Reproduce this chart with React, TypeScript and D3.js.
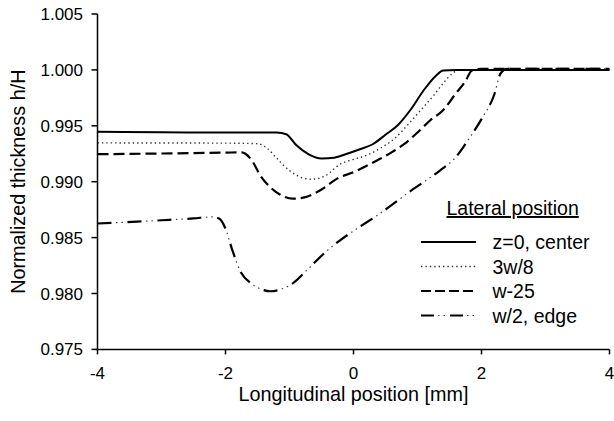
import React from "react";
import * as d3 from "d3";

// ---- data ----
const xTicks = [-4, -2, 0, 2, 4];
const yTicks = [0.975, 0.98, 0.985, 0.99, 0.995, 1.0, 1.005];

const seriesNames = ["z=0, center", "3w/8", "w-25", "w/2, edge"];

const centerData: [number, number][] = [
  [-4, 0.99446], [-3, 0.99442], [-2, 0.9944], [-1.2, 0.9944], [-1.05, 0.99425],
  [-0.9, 0.9933], [-0.7, 0.99245], [-0.5, 0.99208], [-0.3, 0.99215], [-0.1, 0.9925],
  [0.1, 0.9929], [0.3, 0.99335], [0.5, 0.9942], [0.7, 0.9951], [0.9, 0.9965],
  [1.1, 0.9982], [1.3, 0.99955], [1.4, 0.99995], [1.6, 1.0], [4, 1.0],
];

const w38Data: [number, number][] = [
  [-4, 0.99347], [-2, 0.99345], [-1.5, 0.9934], [-1.35, 0.993], [-1.2, 0.9921],
  [-1.0, 0.991], [-0.8, 0.99035], [-0.65, 0.99022], [-0.45, 0.9905], [-0.2, 0.9916],
  [0, 0.992], [0.2, 0.99235], [0.45, 0.9931], [0.65, 0.9939], [0.85, 0.9951],
  [1.05, 0.9964], [1.25, 0.9977], [1.4, 0.9988], [1.55, 0.9997], [1.65, 1.0], [4, 1.0],
];

const w25Data: [number, number][] = [
  [-4, 0.99246], [-3, 0.99252], [-2, 0.9926], [-1.75, 0.99262], [-1.6, 0.992],
  [-1.45, 0.9905], [-1.3, 0.9895], [-1.15, 0.98885], [-0.95, 0.98848], [-0.75, 0.98862],
  [-0.5, 0.9893], [-0.25, 0.9903], [0, 0.99085], [0.2, 0.9914], [0.4, 0.992],
  [0.6, 0.99265], [0.8, 0.9934], [1.0, 0.9944], [1.2, 0.9955], [1.4, 0.9964],
  [1.6, 0.9979], [1.75, 0.999], [1.85, 0.99995], [2.0, 1.0001], [4, 1.0001],
];

const edgeData: [number, number][] = [
  [-4, 0.98626], [-3, 0.98655], [-2.5, 0.98672], [-2.2, 0.98685], [-2.1, 0.9867],
  [-2.0, 0.9858], [-1.9, 0.984], [-1.77, 0.982], [-1.6, 0.9809], [-1.45, 0.9804],
  [-1.3, 0.9802], [-1.1, 0.98045], [-0.95, 0.9809], [-0.7, 0.98225], [-0.4, 0.9839],
  [-0.2, 0.9848], [0, 0.9856], [0.4, 0.9871], [0.9, 0.9892], [1.35, 0.991],
  [1.6, 0.9922], [1.8, 0.9938], [2.0, 0.9956], [2.2, 0.9978], [2.3, 0.9997],
  [2.4, 1.0001], [3, 1.0001], [4, 1.0001],
];

const W = 614;
const H = 421;
const left = 97.5;
const right = 609.5;
const top = 14;
const bottom = 349.4;

const FONT = "'Liberation Sans', Arial, Helvetica, sans-serif";

export default function App() {
  const x = d3.scaleLinear().domain([-4, 4]).range([left, right]);
  const y = d3.scaleLinear().domain([0.975, 1.005]).range([bottom, top]);
  const line = d3
    .line<[number, number]>()
    .x((d) => x(d[0]))
    .y((d) => y(d[1]))
    .curve(d3.curveMonotoneX);

  const legX1 = 421;
  const legX2 = 476;
  const legText = 492.5;
  const legY0 = 242;
  const legDy = 24.5;

  const solid = { stroke: "#000", strokeWidth: 2, fill: "none" };
  const dotted = { stroke: "#333", strokeWidth: 1.4, fill: "none", strokeDasharray: "1.4 3" };
  const dashed = { stroke: "#000", strokeWidth: 2.2, fill: "none", strokeDasharray: "11 5" };
  const ddDash = { stroke: "#000", strokeWidth: 2.2, fill: "none", strokeDasharray: "14 16" };
  const ddDots = { stroke: "#444", strokeWidth: 1.2, fill: "none", strokeDasharray: "0 18.5 1.5 4 1.5 4.5" };

  const legLine = (i: number) => `M${legX1},${legY0 + i * legDy}L${legX2},${legY0 + i * legDy}`;

  return (
    <svg
      width={W}
      height={H}
      style={{ position: "absolute", left: 0, top: 0, background: "#fff" }}
      fontFamily={FONT}
    >
      <rect x={0} y={0} width={W} height={H} fill="#fff" />

      {/* curves */}
      <path d={line(edgeData) || ""} {...ddDash} />
      <path d={line(edgeData) || ""} {...ddDots} />
      <path d={line(w25Data) || ""} {...dashed} />
      <path d={line(w38Data) || ""} {...dotted} />
      <path d={line(centerData) || ""} {...solid} />

      {/* axes */}
      <line x1={left} x2={left} y1={top} y2={bottom} stroke="#000" strokeWidth={1.5} />
      <line x1={left} x2={right} y1={bottom} y2={bottom} stroke="#000" strokeWidth={1.5} />
      {yTicks.map((t) => (
        <g key={"y" + t}>
          <line x1={left - 6} x2={left} y1={y(t)} y2={y(t)} stroke="#000" strokeWidth={1.5} />
          <text x={83} y={y(t) + 6} fontSize={17} textAnchor="end" fill="#000">
            {d3.format(".3f")(t)}
          </text>
        </g>
      ))}
      {xTicks.map((t) => (
        <g key={"x" + t}>
          <line x1={x(t)} x2={x(t)} y1={bottom} y2={bottom + 5} stroke="#000" strokeWidth={1.5} />
          <text x={x(t)} y={378.5} fontSize={17} textAnchor="middle" fill="#000">
            {String(t)}
          </text>
        </g>
      ))}

      {/* axis titles */}
      <text x={(left + right) / 2} y={401} fontSize={19.8} textAnchor="middle" fill="#000">
        Longitudinal position [mm]
      </text>
      <text
        transform={`translate(25,${(top + bottom) / 2}) rotate(-90)`}
        fontSize={19.8}
        textAnchor="middle"
        fill="#000"
      >
        Normalized thickness h/H
      </text>

      {/* legend */}
      <text x={446.5} y={215} fontSize={19.5} fill="#000" textDecoration="underline">
        Lateral position
      </text>
      <path d={legLine(0)} {...solid} />
      <path d={legLine(1)} {...dotted} />
      <path d={legLine(2)} {...dashed} strokeDasharray="10 4" />
      <path d={legLine(3)} {...ddDash} strokeDasharray="13 16" />
      <path d={legLine(3)} {...ddDots} strokeDasharray="0 17 1.5 4 1.5 5" />
      {seriesNames.map((n, i) => (
        <text key={n} x={legText} y={legY0 + i * legDy + 7} fontSize={19.5} fill="#000">
          {n}
        </text>
      ))}
    </svg>
  );
}
